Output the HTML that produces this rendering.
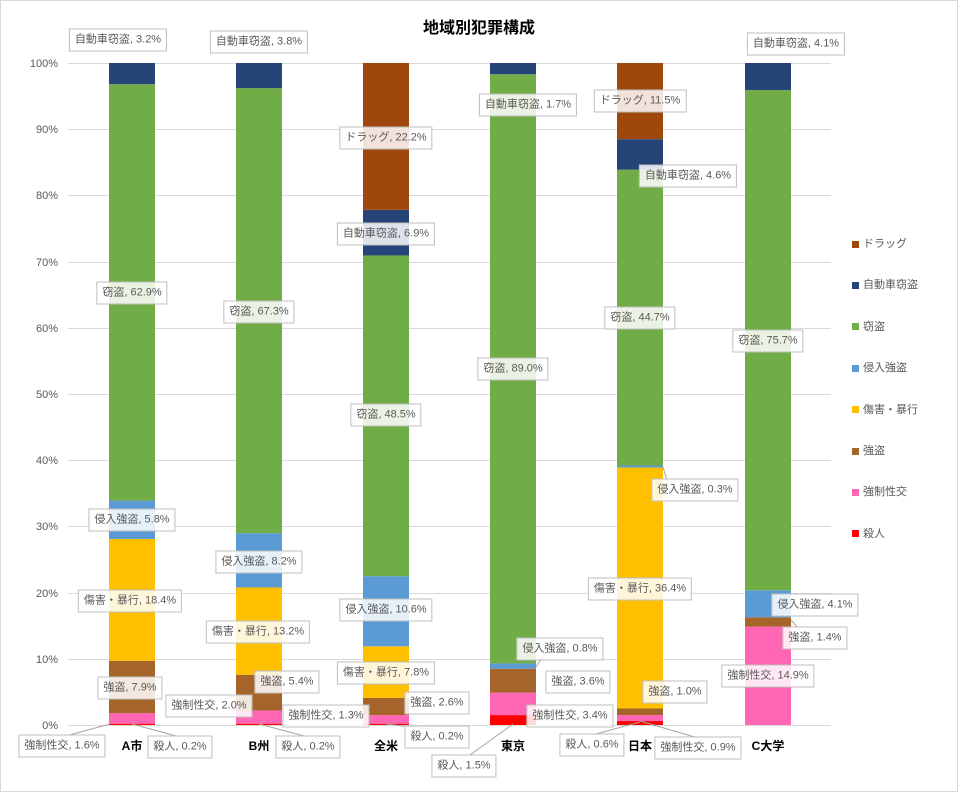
<!DOCTYPE html><html><head><meta charset="utf-8"><style>
body{margin:0;background:#fff;font-family:"Liberation Sans","Noto Sans CJK JP",sans-serif}
#c{position:relative;width:958px;height:792px;overflow:hidden}
.l{position:absolute;transform:translate(-50%,-50%);background:rgba(255,255,255,0.85);border:1px solid #bfbfbf;font-size:11px;color:#595959;padding:4px 5px;white-space:nowrap;line-height:13px}
.y{position:absolute;right:900px;font-size:11px;color:#595959;transform:translateY(-50%)}
.x{position:absolute;transform:translateX(-50%);font-size:12px;font-weight:bold;color:#000;top:737px}
.g{position:absolute;left:852px;font-size:11px;color:#595959;transform:translateY(-50%)}
.g i{display:inline-block;width:7px;height:7px;margin-right:4px;vertical-align:middle}
</style></head><body><div id="c">
<svg width="958" height="792" style="position:absolute;left:0;top:0">
<rect x="0.5" y="0.5" width="957" height="791" fill="none" stroke="#d9d9d9"/>
<g stroke="#d9d9d9" stroke-width="1" id="grid"></g>
<g id="bars"></g>
<g stroke="#a6a6a6" stroke-width="1" fill="none">
<path d="M110 724 L62 737"/><path d="M132 724 L180 737"/><path d="M259 724 L308 737"/><path d="M386 724 L437 730"/><path d="M513 724 L470 755"/><path d="M640 722 L592 735"/><path d="M640 721 L698 738"/><path d="M536 667 L548 649"/><path d="M663 467 L670 490"/><path d="M791 620 L800 630"/>
</g>
</svg>
<div style="position:absolute;left:0;width:958px;top:14px;text-align:center;font-size:16px;font-weight:bold;color:#000">地域別犯罪構成</div>
<div id="labels"></div>
</div>
<script>
var svg="http://www.w3.org/2000/svg";
var grid=document.getElementById('grid'),bars=document.getElementById('bars'),c=document.getElementById('c');
function Y(p){return 725-6.62*p}
for(var i=0;i<=10;i++){var y=Math.round(Y(i*10))+0.5;var ln=document.createElementNS(svg,'line');ln.setAttribute('x1',68);ln.setAttribute('x2',831);ln.setAttribute('y1',y);ln.setAttribute('y2',y);grid.appendChild(ln);
var d=document.createElement('div');d.className='y';d.style.top=y+'px';d.textContent=(i*10)+'%';c.appendChild(d);}
var cols=['#ff0000','#ff66b3','#a5652a','#ffc000','#5b9bd5','#70ad47','#264478','#9e480e'];
var data=[[132,[0.2,1.6,7.9,18.4,5.8,62.9,3.2,0]],[259,[0.2,2.0,5.4,13.2,8.2,67.3,3.8,0]],[386,[0.2,1.3,2.6,7.8,10.6,48.5,6.9,22.2]],[513,[1.5,3.4,3.6,0,0.8,89.0,1.7,0]],[640,[0.6,0.9,1.0,36.4,0.3,44.7,4.6,11.5]],[768,[0,14.9,1.4,0,4.1,75.7,4.1,0]]];
data.forEach(function(b){var s=0,tot=b[1].reduce(function(a,v){return a+v},0);b[1].forEach(function(v,k){var p=v/tot*100;if(p<=0)return;var r=document.createElementNS(svg,'rect');r.setAttribute('x',b[0]-23);r.setAttribute('width',46);r.setAttribute('y',Y(s+p));r.setAttribute('height',6.62*p);r.setAttribute('fill',cols[k]);bars.appendChild(r);s+=p;});});
var L=[[118,40,'自動車窃盗, 3.2%'],[132,293,'窃盗, 62.9%'],[132,520,'侵入強盗, 5.8%'],[130,601,'傷害・暴行, 18.4%'],[130,688,'強盗, 7.9%'],[62,746,'強制性交, 1.6%'],[180,747,'殺人, 0.2%'],
[259,42,'自動車窃盗, 3.8%'],[259,312,'窃盗, 67.3%'],[259,562,'侵入強盗, 8.2%'],[258,632,'傷害・暴行, 13.2%'],[287,682,'強盗, 5.4%'],[209,706,'強制性交, 2.0%'],[308,747,'殺人, 0.2%'],
[386,138,'ドラッグ, 22.2%'],[386,234,'自動車窃盗, 6.9%'],[386,415,'窃盗, 48.5%'],[386,610,'侵入強盗, 10.6%'],[386,673,'傷害・暴行, 7.8%'],[437,703,'強盗, 2.6%'],[326,716,'強制性交, 1.3%'],[437,737,'殺人, 0.2%'],[464,766,'殺人, 1.5%'],
[528,105,'自動車窃盗, 1.7%'],[513,369,'窃盗, 89.0%'],[560,649,'侵入強盗, 0.8%'],[578,682,'強盗, 3.6%'],[570,716,'強制性交, 3.4%'],
[640,101,'ドラッグ, 11.5%'],[688,176,'自動車窃盗, 4.6%'],[640,318,'窃盗, 44.7%'],[695,490,'侵入強盗, 0.3%'],[640,589,'傷害・暴行, 36.4%'],[675,692,'強盗, 1.0%'],[592,745,'殺人, 0.6%'],[698,748,'強制性交, 0.9%'],
[796,44,'自動車窃盗, 4.1%'],[768,341,'窃盗, 75.7%'],[815,605,'侵入強盗, 4.1%'],[815,638,'強盗, 1.4%'],[768,676,'強制性交, 14.9%']];
L.forEach(function(a){var d=document.createElement('div');d.className='l';d.style.left=a[0]+'px';d.style.top=a[1]+'px';d.textContent=a[2];c.appendChild(d);});
[['A市',132],['B州',259],['全米',386],['東京',513],['日本',640],['C大学',768]].forEach(function(a){var d=document.createElement('div');d.className='x';d.style.left=a[1]+'px';d.textContent=a[0];c.appendChild(d);});
var lg=[['ドラッグ',7],['自動車窃盗',6],['窃盗',5],['侵入強盗',4],['傷害・暴行',3],['強盗',2],['強制性交',1],['殺人',0]];
lg.forEach(function(a,i){var d=document.createElement('div');d.className='g';d.style.top=(243+i*41.4)+'px';d.innerHTML='<i style="background:'+cols[a[1]]+'"></i>'+a[0];c.appendChild(d);});
</script></body></html>
